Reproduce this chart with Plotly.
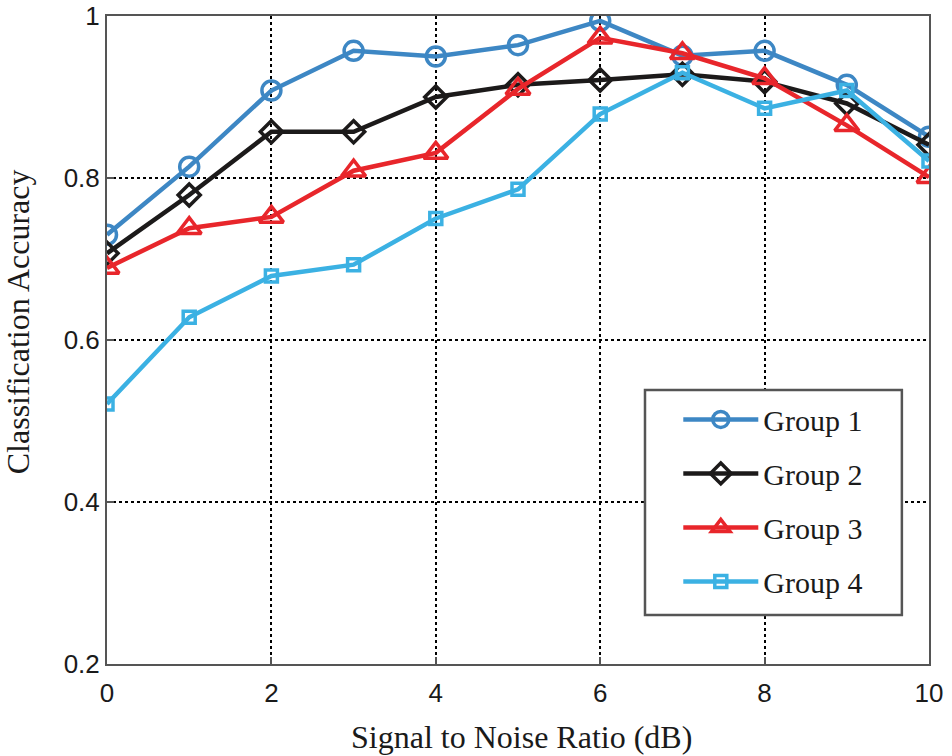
import plotly.graph_objects as go

snr = [0, 1, 2, 3, 4, 5, 6, 7, 8, 9, 10]
group1 = [0.730, 0.814, 0.908, 0.957, 0.950, 0.964, 0.994, 0.951, 0.957, 0.915, 0.851]
group2 = [0.707, 0.779, 0.857, 0.857, 0.900, 0.915, 0.921, 0.928, 0.919, 0.892, 0.841]
group3 = [0.689, 0.738, 0.752, 0.809, 0.831, 0.910, 0.973, 0.954, 0.923, 0.865, 0.801]
group4 = [0.521, 0.628, 0.679, 0.693, 0.750, 0.786, 0.879, 0.930, 0.886, 0.908, 0.821]
names = ["Group 1", "Group 2", "Group 3", "Group 4"]
colors = ["#3d87c4", "#1c1a1a", "#e8262b", "#3bb1e3"]
symbols = ["circle-open", "diamond-open", "triangle-up-open", "square-open"]
sizes = [19, 17, 21, 12]
x_ticks = [0, 2, 4, 6, 8, 10]
y_ticks = [0.2, 0.4, 0.6, 0.8, 1.0]
y_ticktext = ["0.2", "0.4", "0.6", "0.8", "1"]

serif = "Liberation Serif, Times New Roman, serif"
sans = "Liberation Sans, Arial, sans-serif"

fig = go.Figure()
for name, ys, c, s, sz in zip(names, [group1, group2, group3, group4], colors, symbols, sizes):
    fig.add_trace(go.Scatter(
        x=snr, y=ys, name=name, mode="lines+markers", legendgroup=name,
        line=dict(color=c, width=4.5),
        marker=dict(symbol=s, size=sz, color=c, line=dict(width=3.5, color=c)),
    ))

axis_common = dict(
    showgrid=True, gridcolor="black", griddash="dot", gridwidth=1.5,
    showline=True, linecolor="#555555", linewidth=2, mirror=True,
    ticks="inside", ticklen=7, tickcolor="#555555", tickwidth=1.5,
    tickfont=dict(family=sans, size=26, color="#1a1a1a"),
    zeroline=False, automargin=False, ticklabeloverflow="allow",
)
fig.update_xaxes(range=[0, 10], tickvals=x_ticks, ticklabelstandoff=5, **axis_common)
fig.update_yaxes(range=[0.2, 1.0], tickvals=y_ticks, ticktext=y_ticktext, **axis_common)

fig.add_annotation(text="Signal to Noise Ratio (dB)", xref="paper", yref="paper",
                   x=0.504, y=-0.112, xanchor="center", yanchor="middle", showarrow=False,
                   font=dict(family=serif, size=32, color="#1a1a1a"))
fig.add_annotation(text="Classification Accuracy", xref="paper", yref="paper",
                   x=-0.109, y=0.528, xanchor="center", yanchor="middle", showarrow=False,
                   textangle=-90, font=dict(family=serif, size=32, color="#1a1a1a"))

# legend frame
fig.add_shape(type="rect", xref="paper", yref="paper", x0=0.6545, x1=0.967, y0=0.0756, y1=0.4228,
              line=dict(color="#555555", width=2.5), fillcolor="white", layer="above")

fig.update_layout(
    width=952, height=756,
    margin=dict(l=107, r=23, t=16, b=92),
    plot_bgcolor="white", paper_bgcolor="white",
    legend=dict(x=0.695, y=0.4175, xanchor="left", yanchor="top",
                bgcolor="rgba(0,0,0,0)", borderwidth=0,
                font=dict(family=serif, size=30, color="#1a1a1a"),
                tracegroupgap=12, itemwidth=75),
    showlegend=True,
)
fig.write_html("out.html", config={"displayModeBar": False},
               post_script="document.body.style.margin='0px';document.body.style.overflow='hidden';")
